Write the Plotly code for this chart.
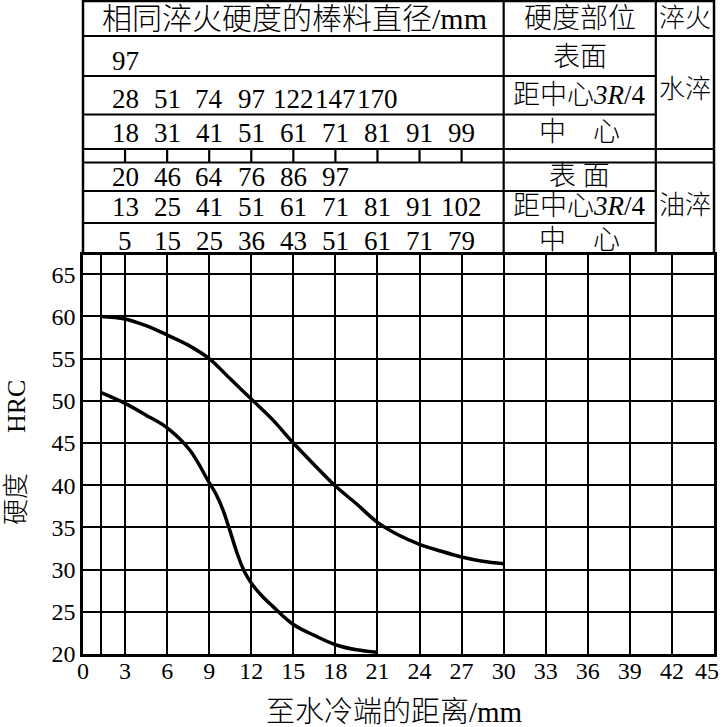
import plotly.graph_objects as go

# ---------------- data ----------------
dist_upper = [1.25, 3, 4.5, 6, 7.5, 9, 10.5, 12, 13.5, 15, 16.5, 18, 19.5, 21, 22.5, 24, 25.5, 27, 28.5, 30]
hrc_upper = [60.0, 59.7, 58.9, 57.8, 56.6, 55.0, 52.6, 50.2, 47.8, 45.0, 42.4, 39.9, 37.8, 35.6, 34.1, 33.0, 32.2, 31.5, 31.0, 30.7]

dist_lower = [1.25, 3, 4.5, 6, 7.6, 9, 9.5, 10, 10.5, 11, 11.5, 12, 12.75, 13.5, 15, 16.5, 18, 19.5, 21]
hrc_lower = [51.0, 49.7, 48.3, 46.8, 44.2, 40.3, 38.9, 37.0, 34.5, 31.9, 29.8, 28.4, 26.9, 25.7, 23.5, 22.2, 21.1, 20.5, 20.2]

x_ticks = [0, 3, 6, 9, 12, 15, 18, 21, 24, 27, 30, 33, 36, 39, 42, 45]
y_ticks = [20, 25, 30, 35, 40, 45, 50, 55, 60, 65]

# table: equivalent bar diameters (mm) at Jominy distances 3, 6, 9, ...
jominy_pos = [3, 6, 9, 12, 15, 18, 21, 24, 27]
water_surface = [97]
water_3r4 = [28, 51, 74, 97, 122, 147, 170]
water_center = [18, 31, 41, 51, 61, 71, 81, 91, 99]
oil_surface = [20, 46, 64, 76, 86, 97]
oil_3r4 = [13, 25, 41, 51, 61, 71, 81, 91, 102]
oil_center = [5, 15, 25, 36, 43, 51, 61, 71, 79]

header_diam = "相同淬火硬度的棒料直径/mm"
header_pos = "硬度部位"
header_q = "淬火"
pos_labels = ["表面", "距中心<i>3R</i>/4", "中　心", "表 面", "距中心<i>3R</i>/4", "中　心"]
quench_labels = ["水淬", "油淬"]
x_title = "至水冷端的距离/mm"

# ---------------- layout helpers ----------------
W, H = 722, 727
ML, MR, MT, MB = 83, 8, 0, 73
PH = H - MT - MB          # plot-area height in px (paper 0..1)
PW = W - ML - MR
PLOT_TOP = 255            # px where the chart grid starts
XMAX = 45.0


def py(p):
    return 1 - p / PH


def pxm(xmm):
    return xmm / XMAX


def ppx(p):
    return (p - ML) / PW


SERIF = "Liberation Serif, Times New Roman, Noto Sans CJK SC"
CJK = "Liberation Serif, Noto Sans CJK SC"
LW = 2.2

fig = go.Figure()
fig.add_trace(go.Scatter(x=dist_upper, y=hrc_upper, mode="lines",
                         line=dict(color="black", width=3.5, shape="spline", smoothing=1.0),
                         showlegend=False, hoverinfo="skip"))
# second curve on an overlaid x axis with the identical range (carries the edge tick label)
fig.add_trace(go.Scatter(x=dist_lower, y=hrc_lower, mode="lines", xaxis="x2",
                         line=dict(color="black", width=3.5, shape="spline", smoothing=1.0),
                         showlegend=False, hoverinfo="skip"))

shapes = []


def hline(p, x0, x1, w=LW):
    shapes.append(dict(type="line", xref="paper", yref="paper", x0=pxm(x0), x1=pxm(x1),
                       y0=py(p), y1=py(p), line=dict(color="black", width=w)))


def vline(xmm, p0, p1, w=LW):
    shapes.append(dict(type="line", xref="paper", yref="paper", x0=pxm(xmm), x1=pxm(xmm),
                       y0=py(p0), y1=py(p1), line=dict(color="black", width=w)))


COL1, COL2 = 30.0, 40.85
hline(1, 0, XMAX, 2.5)
vline(0, 0, PLOT_TOP, 2.5)
vline(XMAX, 0, PLOT_TOP, 2.5)
vline(COL1, 0, PLOT_TOP)
vline(COL2, 0, PLOT_TOP)
hline(36, 0, XMAX)
hline(76, 0, COL2)
hline(114.5, 0, COL2)
hline(149, 0, XMAX)
hline(162.5, 0, XMAX)
hline(191, 0, COL2)
hline(223, 0, COL2)
for xv in jominy_pos:
    vline(xv, 149, 162.5)

annotations = []


def txt(x, y, s, size, xref="paper", family=SERIF, xanchor="center", textangle=0, weight=None):
    f = dict(family=family, size=size, color="black")
    if weight:
        f["weight"] = weight
    annotations.append(dict(x=x, y=y, xref=xref, yref="paper", text=s, showarrow=False,
                            xanchor=xanchor, yanchor="middle", textangle=textangle, font=f))


# header
txt(ppx(100), py(18), header_diam, 30, xanchor="left", family=CJK, weight=300)
txt(pxm((COL1 + COL2) / 2), py(18), header_pos, 28, family=CJK, weight=300)
txt(pxm((COL2 + XMAX) / 2), py(18), header_q, 26, family=CJK, weight=300)

# numbers
row_centers = [61, 99, 133, 177, 207, 241]
row_vals = [water_surface, water_3r4, water_center, oil_surface, oil_3r4, oil_center]
for yc, vals in zip(row_centers, row_vals):
    for xv, v in zip(jominy_pos, vals):
        txt(xv, py(yc), str(v), 27, xref="x")

# position labels
label_centers = [57, 95, 132, 176, 206, 240]
for yc, lab in zip(label_centers, pos_labels):
    txt(pxm((COL1 + COL2) / 2), py(yc), lab, 27, family=CJK, weight=300)

txt(pxm((COL2 + XMAX) / 2), py(89), quench_labels[0], 26, family=CJK, weight=300)
txt(pxm((COL2 + XMAX) / 2), py(205), quench_labels[1], 26, family=CJK, weight=300)

# axis titles
txt(ppx(394), py(712), x_title, 29, family=CJK, weight=300)
txt(ppx(16), py(407), "HRC", 26, textangle=-90)
txt(ppx(16), py(499), "硬度", 26, family=CJK, textangle=-90, weight=300)

fig.update_layout(
    width=W, height=H,
    margin=dict(l=ML, r=MR, t=MT, b=MB, pad=0),
    paper_bgcolor="white", plot_bgcolor="white",
    shapes=shapes, annotations=annotations,
    xaxis=dict(range=[0, XMAX], tickmode="array", tickvals=x_ticks[:-1],
               ticktext=[str(v) for v in x_ticks[:-1]],
               showgrid=True, gridcolor="black", gridwidth=LW,
               minor=dict(tickmode="array", tickvals=[1.25], showgrid=True,
                          gridcolor="black", gridwidth=LW, ticks=""),
               showline=True, linecolor="black", linewidth=2.5, mirror=True,
               zeroline=False, ticks="", ticklabelstandoff=-7,
               tickfont=dict(family=SERIF, size=24, color="black")),
    xaxis2=dict(overlaying="x", anchor="y", side="bottom", range=[0, XMAX],
                tickmode="array", tickvals=x_ticks[-1:], ticktext=[str(v) for v in x_ticks[-1:]],
                showgrid=False, showline=False, zeroline=False, ticks="",
                ticklabelstandoff=0, ticklabelshift=-7,
                tickfont=dict(family="Liberation Serif", size=24, color="black")),
    yaxis=dict(domain=[0, (PH - PLOT_TOP) / PH], range=[20, 20 + (654 - PLOT_TOP) / 8.44],
               tickmode="array", tickvals=y_ticks, ticktext=[str(v) for v in y_ticks],
               showgrid=True, gridcolor="black", gridwidth=LW,
               showline=True, linecolor="black", linewidth=2.5, mirror=True,
               zeroline=False, ticks="", ticklabelstandoff=0,
               tickfont=dict(family=SERIF, size=24, color="black")),
)

fig.write_html("out.html", config={"displayModeBar": False},
               post_script="document.body.style.margin='0px';document.body.style.padding='0px';")
